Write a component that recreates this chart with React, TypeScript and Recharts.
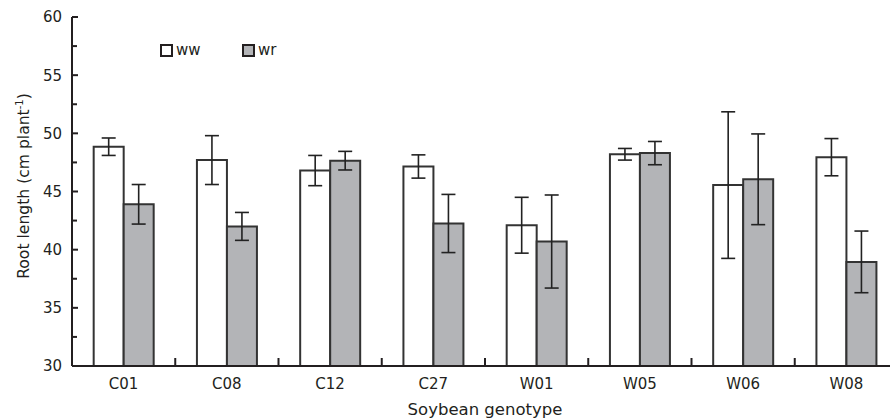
import React from 'react';
import { BarChart, Bar, XAxis, YAxis, ErrorBar, Legend } from 'recharts';

const genotypes = ['C01', 'C08', 'C12', 'C27', 'W01', 'W05', 'W06', 'W08'];
const wwMean = [48.85, 47.7, 46.8, 47.15, 42.1, 48.2, 45.55, 47.95];
const wwErr = [0.75, 2.1, 1.3, 1.0, 2.4, 0.5, 6.3, 1.6];
const wrMean = [43.9, 42.0, 47.65, 42.25, 40.7, 48.3, 46.05, 38.95];
const wrErr = [1.7, 1.2, 0.8, 2.5, 4.0, 1.0, 3.9, 2.65];
const yTicks = [30, 32.5, 35, 37.5, 40, 42.5, 45, 47.5, 50, 52.5, 55, 57.5, 60];

const data = genotypes.map((g, i) => ({
  g,
  ww: wwMean[i],
  wwE: wwErr[i],
  wr: wrMean[i],
  wrE: wrErr[i],
}));

const CHART_W = 900;
const CHART_H = 420;
const M = { top: 17, right: 2, left: 0, bottom: 0 };
const Y_W = 72;
const X_H = 54;
const FONT = '"DejaVu Sans", sans-serif';
const TXT = '#231f20';
const AX = '#231f20';
const BAND = (CHART_W - M.left - M.right - Y_W) / genotypes.length;

const XTick = (props: any) => {
  const { x, y, payload } = props;
  return (
    <g>
      <line x1={x + BAND / 2} x2={x + BAND / 2} y1={y} y2={y - 8} stroke={AX} strokeWidth={2} />
      <text x={x} y={y + 23} textAnchor="middle" fontFamily={FONT} fontSize={15} fill={TXT}>
        {payload.value}
      </text>
    </g>
  );
};

const YTick = (props: any) => {
  const { x, y, payload } = props;
  const major = payload.value % 5 === 0;
  return (
    <g>
      <line x1={x} x2={x + (major ? 6 : 5)} y1={y} y2={y} stroke={AX} strokeWidth={2} />
      {major && (
        <text x={x - 10} y={y} dy="0.36em" textAnchor="end" fontFamily={FONT} fontSize={15} fill={TXT}>
          {payload.value}
        </text>
      )}
    </g>
  );
};

const YLabel = () => (
  <text
    transform="translate(29,186) rotate(-90)"
    textAnchor="middle"
    fontFamily={FONT}
    fontSize={15.6}
    fill={TXT}
  >
    Root length (cm plant
    <tspan dy={-6} fontSize={10}>-1</tspan>
    <tspan dy={6}>)</tspan>
  </text>
);

const LegendContent = () => (
  <div style={{ display: 'flex', alignItems: 'center', fontFamily: FONT, fontSize: 15, color: TXT, lineHeight: '16px' }}>
    <span style={{ width: 9, height: 9, border: `2px solid ${AX}`, background: '#fff', display: 'inline-block' }} />
    <span style={{ marginLeft: 3, width: 66 }}>ww</span>
    <span style={{ width: 9, height: 9, border: `2px solid ${AX}`, background: '#b3b4b7', display: 'inline-block' }} />
    <span style={{ marginLeft: 3 }}>wr</span>
  </div>
);

export default function App() {
  return (
    <div style={{ position: 'absolute', left: 0, top: 0, width: 890, height: 420, overflow: 'hidden', background: '#fff' }}>
      <BarChart width={CHART_W} height={CHART_H} data={data} margin={M} barCategoryGap="21%" barGap={0}>
        <XAxis
          dataKey="g"
          height={X_H}
          tick={<XTick />}
          tickLine={false}
          tickSize={0}
          tickMargin={0}
          axisLine={{ stroke: AX, strokeWidth: 2 }}
          interval={0}
          label={{ value: 'Soybean genotype', position: 'insideBottom', offset: 5, fontFamily: FONT, fontSize: 16.5, fill: TXT }}
        />
        <YAxis
          width={Y_W}
          domain={[30, 60]}
          ticks={yTicks}
          interval={0}
          allowDataOverflow
          tick={<YTick />}
          tickLine={false}
          tickSize={0}
          tickMargin={0}
          axisLine={{ stroke: AX, strokeWidth: 2 }}
          label={<YLabel />}
        />
        <Legend
          layout="horizontal"
          verticalAlign="middle"
          align="center"
          content={<LegendContent />}
          wrapperStyle={{ position: 'absolute', top: 42, left: 160, width: 200, height: 16 }}
        />
        <Bar dataKey="ww" name="ww" fill="#ffffff" stroke="#333" strokeWidth={2} isAnimationActive={false}>
          <ErrorBar dataKey="wwE" width={7} stroke="#222" strokeWidth={1.6} />
        </Bar>
        <Bar dataKey="wr" name="wr" fill="#b3b4b7" stroke="#333" strokeWidth={2} isAnimationActive={false}>
          <ErrorBar dataKey="wrE" width={7} stroke="#222" strokeWidth={1.6} />
        </Bar>
      </BarChart>
    </div>
  );
}
